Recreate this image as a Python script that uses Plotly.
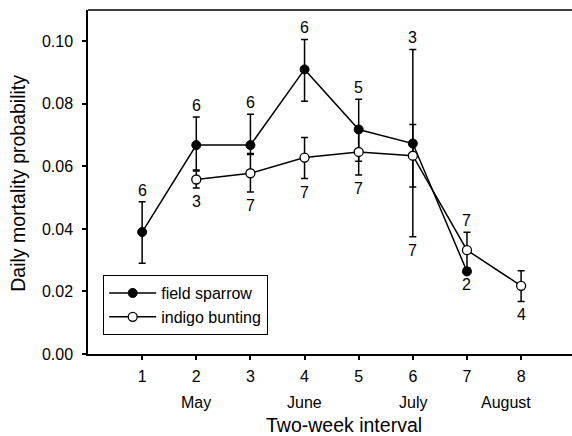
import plotly.graph_objects as go

# ---- data ----
sparrow_x = [1, 2, 3, 4, 5, 6, 7]
sparrow_y = [0.0390, 0.0668, 0.0668, 0.0910, 0.0718, 0.0673, 0.0264]
sparrow_hi = [0.0487, 0.0758, 0.0767, 0.1006, 0.0815, 0.0974, 0.0264]
sparrow_lo = [0.0290, 0.0588, 0.0641, 0.0808, 0.0616, 0.0375, 0.0264]
sparrow_n = ["6", "6", "6", "6", "5", "3", "2"]
sparrow_side = ["above", "above", "above", "above", "above", "above", "below"]

bunting_x = [2, 3, 4, 5, 6, 7, 8]
bunting_y = [0.0558, 0.0578, 0.0628, 0.0646, 0.0634, 0.0332, 0.0218]
bunting_hi = [0.0585, 0.0638, 0.0692, 0.0722, 0.0734, 0.0389, 0.0266]
bunting_lo = [0.0531, 0.0518, 0.0561, 0.0572, 0.0534, 0.0275, 0.0168]
bunting_n = ["3", "7", "7", "7", "7", "7", "4"]
bunting_side = ["below", "below", "below", "below", "below", "above", "below"]

x_ticks = [1, 2, 3, 4, 5, 6, 7, 8]
y_ticks = [0.00, 0.02, 0.04, 0.06, 0.08, 0.10]
months = ["May", "June", "July", "August"]
month_pos = [2, 4, 6, 7.72]

FONT = "Liberation Sans, Arial, sans-serif"
TXT = dict(family=FONT, size=16, color="black")

fig = go.Figure()

fig.add_trace(go.Scatter(
    x=sparrow_x, y=sparrow_y, mode="lines+markers", name="field sparrow",
    line=dict(color="black", width=1.5),
    marker=dict(symbol="circle", size=9, color="black", line=dict(color="black", width=1)),
    error_y=dict(type="data", symmetric=False,
                 array=[h - v for h, v in zip(sparrow_hi, sparrow_y)],
                 arrayminus=[v - l for v, l in zip(sparrow_y, sparrow_lo)],
                 color="black", thickness=1.5, width=3.5),
))
fig.add_trace(go.Scatter(
    x=bunting_x, y=bunting_y, mode="lines+markers", name="indigo bunting",
    line=dict(color="black", width=1.5),
    marker=dict(symbol="circle", size=9, color="white", line=dict(color="black", width=1.3)),
    error_y=dict(type="data", symmetric=False,
                 array=[h - v for h, v in zip(bunting_hi, bunting_y)],
                 arrayminus=[v - l for v, l in zip(bunting_y, bunting_lo)],
                 color="black", thickness=1.5, width=3.5),
))

# sample-size labels, anchored to error-bar ends
his = {}
los = {}
for xs, hi, lo in [(sparrow_x, sparrow_hi, sparrow_lo), (bunting_x, bunting_hi, bunting_lo)]:
    for x, h, l in zip(xs, hi, lo):
        his[x] = max(his.get(x, -1), h)
        los[x] = min(los.get(x, 1), l)

for xs, ns, sides in [(sparrow_x, sparrow_n, sparrow_side), (bunting_x, bunting_n, bunting_side)]:
    for x, n, s in zip(xs, ns, sides):
        if s == "above":
            fig.add_annotation(x=x, y=his[x], text=n, showarrow=False, yanchor="bottom",
                               yshift=1, font=TXT)
        else:
            fig.add_annotation(x=x, y=los[x], text=n, showarrow=False, yanchor="top",
                               yshift=-3, font=TXT)

for m, p in zip(months, month_pos):
    fig.add_annotation(x=p, y=0, yref="paper", text=m, showarrow=False, yanchor="middle",
                       yshift=-48, font=TXT)

# axis titles
fig.add_annotation(x=0.5285, y=0, xref="paper", yref="paper", text="Two-week interval",
                   showarrow=False, yanchor="middle", yshift=-71,
                   font=dict(family=FONT, size=19.5, color="black"))
fig.add_annotation(x=0, y=0.495, xref="paper", yref="paper", text="Daily mortality probability",
                   showarrow=False, textangle=-90, xanchor="center", xshift=-70,
                   font=dict(family=FONT, size=19.5, color="black"))

# top frame line
fig.add_shape(type="line", xref="paper", yref="paper", x0=0, x1=1, y0=1, y1=1,
              line=dict(color="black", width=1.5))

fig.update_layout(
    width=572, height=436,
    margin=dict(l=88, r=0, t=10, b=82),
    paper_bgcolor="white", plot_bgcolor="white",
    font=TXT,
    showlegend=True,
    legend=dict(x=0.031, y=0.23, xanchor="left", yanchor="top",
                bordercolor="black", borderwidth=1.2, bgcolor="white",
                font=TXT, tracegroupgap=0, itemwidth=47),
    xaxis=dict(range=[0, 8.94], tickvals=x_ticks, ticktext=[str(v) for v in x_ticks],
               showline=True, linecolor="black", linewidth=1.5,
               ticks="outside", ticklen=4, tickwidth=1.5, tickcolor="black",
               showgrid=False, zeroline=False, automargin=False,
               ticklabelstandoff=3, tickfont=TXT),
    yaxis=dict(range=[0, 0.11], tickvals=y_ticks, tickformat=".2f",
               showline=True, linecolor="black", linewidth=1.5,
               ticks="outside", ticklen=4, tickwidth=1.5, tickcolor="black",
               showgrid=False, zeroline=False, automargin=False,
               ticklabelstandoff=6, tickfont=TXT),
)

fig.write_html("out.html", config={"displayModeBar": False},
               post_script="document.body.style.margin='0';document.body.style.padding='0';")
